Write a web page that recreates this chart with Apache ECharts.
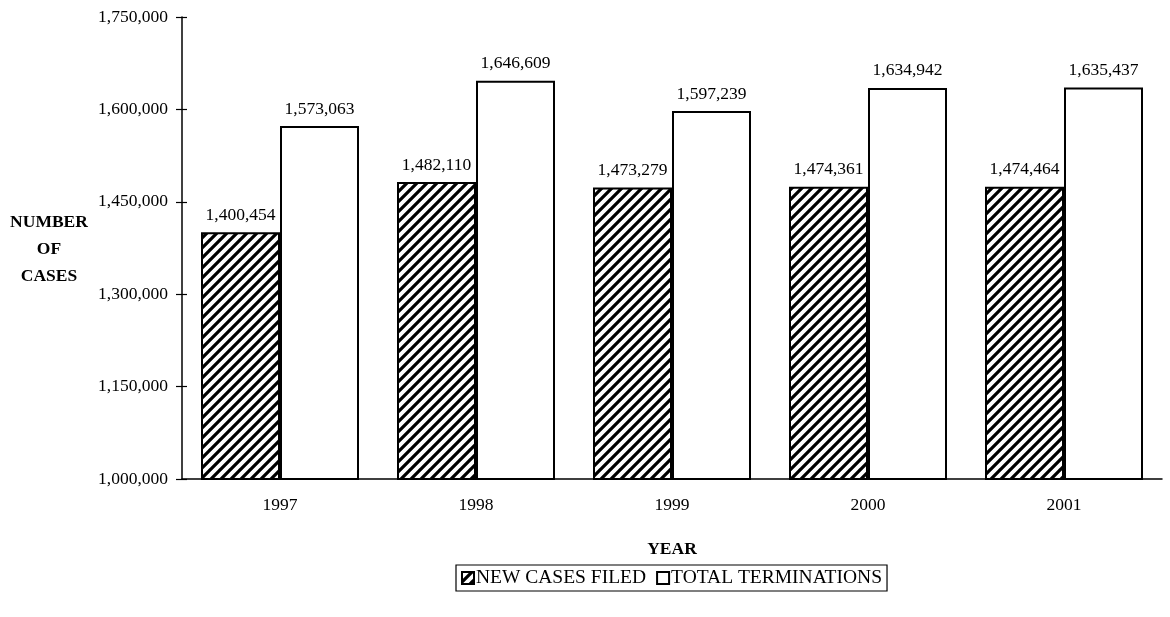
<!DOCTYPE html>
<html>
<head>
<meta charset="utf-8">
<script src="https://cdn.jsdelivr.net/npm/echarts@6/dist/echarts.min.js"></script>
<style>html,body{margin:0;padding:0;background:#fff}#c{width:1170px;height:617px}</style>
</head>
<body>
<div id="c"></div>
<script>
const years = ['1997', '1998', '1999', '2000', '2001'];
const newCasesFiled = [1400454, 1482110, 1473279, 1474361, 1474464];
const totalTerminations = [1573063, 1646609, 1597239, 1634942, 1635437];
const seriesNames = ['NEW CASES FILED', 'TOTAL TERMINATIONS'];
const yMin = 1000000, yMax = 1750000, yStep = 150000;

function hatch() {
  const s = 10;
  const c = document.createElement('canvas');
  c.width = s; c.height = s;
  const g = c.getContext('2d');
  g.fillStyle = '#fff'; g.fillRect(0, 0, s, s);
  g.strokeStyle = '#000'; g.lineWidth = 3.2; g.lineCap = 'square';
  for (const o of [-s, 0, s]) {
    g.beginPath(); g.moveTo(o, s); g.lineTo(o + s, 0); g.stroke();
  }
  return c;
}
const font = '"Liberation Serif", "Times New Roman", serif';
const fmt = v => v.toLocaleString('en-US');
const fs = 17.5;
const chart = echarts.init(document.getElementById('c'));
chart.setOption({
  backgroundColor: '#fff',
  animation: false,
  textStyle: { fontFamily: font, color: '#000' },
  grid: { left: 182, right: 8, top: 17, bottom: 138 },
  legend: {
    bottom: 26, left: 456,
    itemWidth: 12, itemHeight: 12, itemGap: 10,
    icon: 'rect',
    borderColor: '#000', borderWidth: 1.2, padding: [3, 5, 3, 5],
    textStyle: { fontFamily: font, fontSize: 19.5, color: '#000', padding: [0, 0, 0, -3] },
    data: seriesNames
  },
  xAxis: {
    type: 'category', data: years,
    axisLine: { lineStyle: { color: '#000', width: 1.5 } },
    axisTick: { show: false },
    axisLabel: { fontFamily: font, fontSize: fs, color: '#000', margin: 17 },
    name: 'YEAR', nameLocation: 'middle', nameGap: 61,
    nameTextStyle: { fontFamily: font, fontSize: fs, fontWeight: 'bold', color: '#000' }
  },
  yAxis: [{
    type: 'value', min: yMin, max: yMax, interval: yStep,
    splitLine: { show: false },
    axisLine: { show: true, lineStyle: { color: '#000', width: 1.5 } },
    axisTick: { show: true, length: 6, lineStyle: { color: '#000', width: 1.2 } },
    axisLabel: { fontFamily: font, fontSize: fs, color: '#000', margin: 14, formatter: v => fmt(v) }
  }, {
    type: 'value', min: yMin, max: yMax, interval: yStep, position: 'left',
    splitLine: { show: false },
    axisLine: { show: false },
    axisTick: { show: true, inside: true, length: 5, lineStyle: { color: '#000', width: 1.2 } },
    axisLabel: { show: false }
  }],
  graphic: [{
    type: 'text', x: 49, y: 209,
    style: { text: 'NUMBER\nOF\nCASES', fontFamily: font, fontSize: fs, fontWeight: 'bold', fill: '#000', align: 'center', verticalAlign: 'top', lineHeight: 27 }
  }],
  series: [{
    name: seriesNames[0], type: 'bar', data: newCasesFiled,
    barWidth: 79, barGap: '0%',
    itemStyle: { color: { image: hatch(), repeat: 'repeat' }, borderColor: '#000', borderWidth: 2 },
    label: { show: true, position: 'top', distance: 8, fontFamily: font, fontSize: fs, color: '#000', formatter: p => fmt(p.value) }
  }, {
    name: seriesNames[1], type: 'bar', data: totalTerminations,
    barWidth: 79, barGap: '0%',
    itemStyle: { color: '#fff', borderColor: '#000', borderWidth: 2 },
    label: { show: true, position: 'top', distance: 8, fontFamily: font, fontSize: fs, color: '#000', formatter: p => fmt(p.value) }
  }]
});
</script>
</body>
</html>
